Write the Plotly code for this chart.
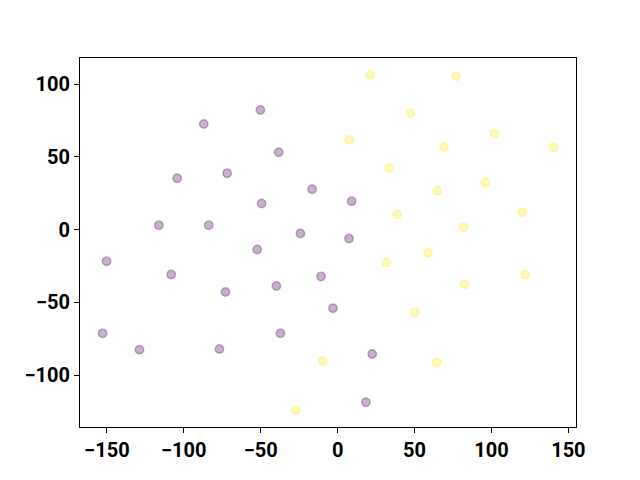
import plotly.graph_objects as go

# Class 0 (purple)
x_purple = [-50.2, -87.0, -38.3, -104.3, -71.8, -16.6, -49.4, -116.2, -83.8, -24.2,
            9.1, 7.4, -150.2, -108.2, -52.3, -72.9, -39.8, -10.8, -152.8, -128.8,
            -76.8, -37.2, -3.0, 22.5, 18.4]
y_purple = [82.2, 72.6, 53.2, 35.3, 38.8, 27.8, 18.0, 3.1, 3.1, -2.6,
            19.6, -6.0, -21.6, -30.7, -13.6, -42.8, -38.7, -32.1, -71.2, -82.4,
            -81.9, -71.2, -54.0, -85.4, -118.5]

# Class 1 (yellow)
x_yellow = [21.2, 77.1, 47.2, 7.6, 102.0, 69.1, 140.3, 33.6, 96.1, 64.7,
            38.6, 120.1, 81.8, 31.8, 58.7, 82.5, 121.9, 50.3, -9.5, 64.5, -27.3]
y_yellow = [106.4, 105.3, 79.9, 61.7, 66.0, 56.8, 56.6, 42.4, 32.4, 26.7,
            10.4, 12.0, 1.7, -22.5, -15.9, -37.6, -30.7, -56.8, -90.4, -91.3, -124.0]

x_ticks = [-150, -100, -50, 0, 50, 100, 150]
y_ticks = [-100, -50, 0, 50, 100]

purple = "rgba(68,1,84,0.3)"
yellow = "rgba(253,231,37,0.3)"

fig = go.Figure()
fig.add_trace(go.Scatter(x=x_purple, y=y_purple, mode="markers",
                         marker=dict(size=8.5, color=purple, line=dict(color=purple, width=1.4)),
                         showlegend=False))
fig.add_trace(go.Scatter(x=x_yellow, y=y_yellow, mode="markers",
                         marker=dict(size=8.5, color=yellow, line=dict(color=yellow, width=1.4)),
                         showlegend=False))

allx = x_purple + x_yellow
ally = y_purple + y_yellow
def padded(v):
    lo, hi = min(v), max(v)
    d = (hi - lo) * 0.05
    return [lo - d, hi + d]

tickfont = dict(family="Roboto", size=20, color="black", weight="bold")
axis_common = dict(showgrid=False, zeroline=False, showline=True, mirror=True,
                   linecolor="black", linewidth=1.1, ticks="outside", ticklen=5,
                   tickwidth=1.1, tickcolor="black", tickfont=tickfont)

fig.update_xaxes(range=padded(allx), tickvals=x_ticks, automargin=False, **axis_common)
fig.update_yaxes(range=padded(ally), tickvals=y_ticks, automargin=False, **axis_common)

# page body has an 8px margin, so the figure is placed at (8, 8)
fig.update_layout(width=632, height=472, plot_bgcolor="white", paper_bgcolor="white",
                  margin=dict(l=72, r=64, t=50, b=53))

fig.write_html("out.html")
